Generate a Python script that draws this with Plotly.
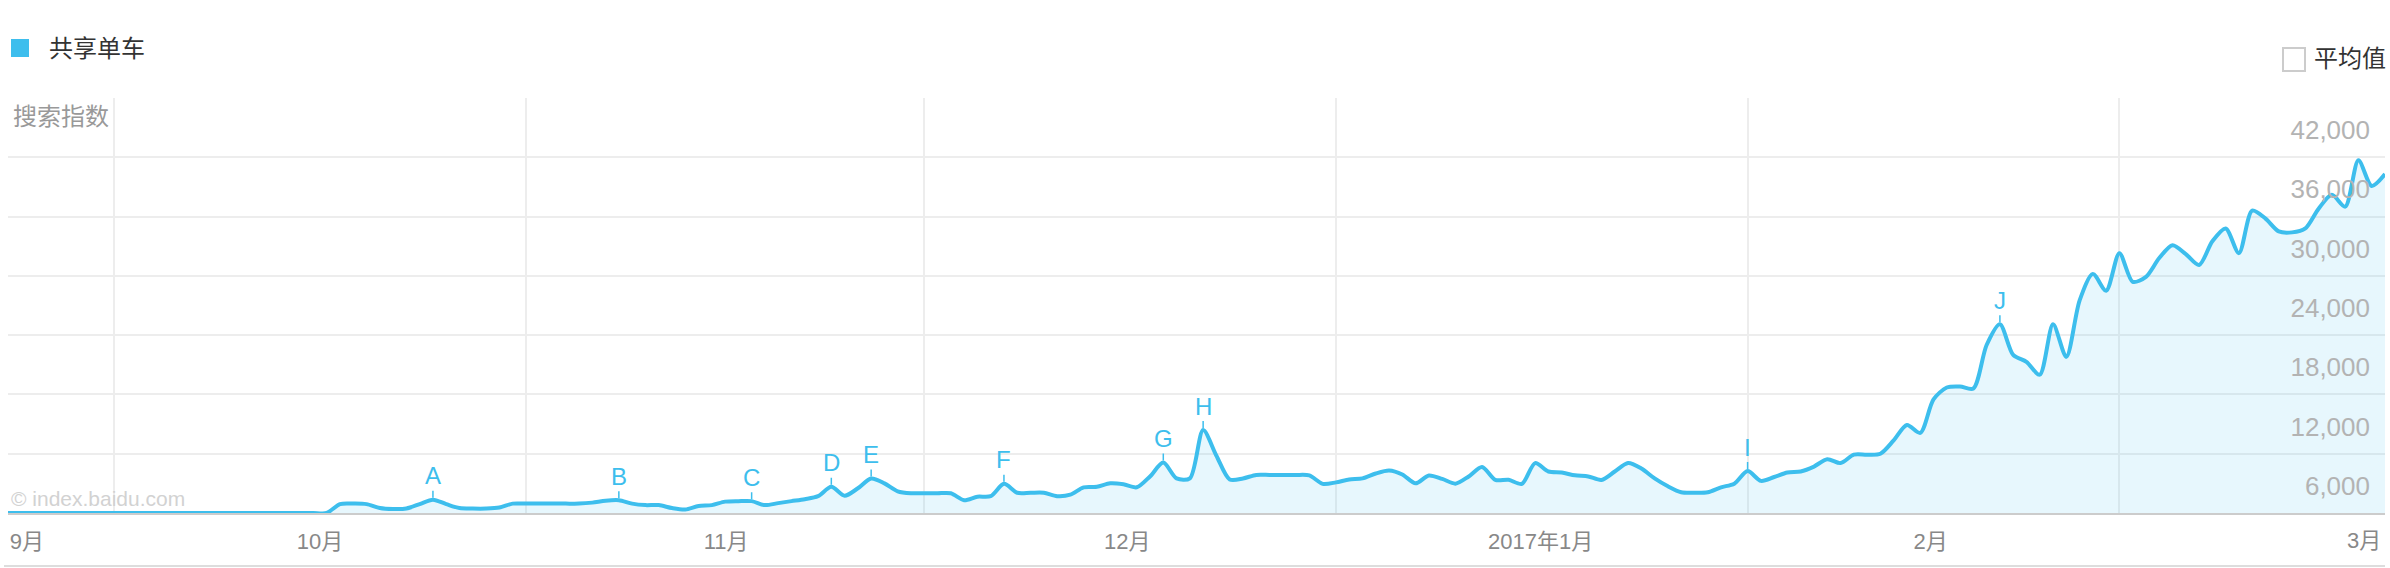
import plotly.graph_objects as go
import pandas as pd

# ---------------- data ----------------
start_date = "2016-09-23"
n_days = 180

series_name = "共享单车"
values = (
    # Sep 23 - Sep 30
    [0, 0, 0, 0, 0, 0, 0, 0]
    # Oct
    + [0, 0, 0, 0, 0, 0, 0, 0, 0, 0, 0, 0, 0, 0, 0, 0,
       0, 900, 950, 900, 500, 400, 450, 900, 1350, 900, 500, 450, 450, 550, 950]
    # Nov
    + [950, 950, 950, 950, 950, 1050, 1250, 1300, 950, 800, 800, 500, 350, 700, 800,
       1150, 1200, 1200, 800, 1000, 1200, 1400, 1700, 2650, 1750, 2500, 3500, 3000, 2200, 2000]
    # Dec
    + [2000, 2000, 2000, 1300, 1650, 1700, 2950, 2050, 2050, 2050, 1700, 1850, 2600, 2650, 3000,
       2900, 2600, 3700, 5100, 3500, 3500, 8400, 5800, 3400, 3500, 3850, 3850, 3850, 3850, 3800, 2950]
    # Jan
    + [3100, 3400, 3500, 4000, 4300, 3900, 3000, 3800, 3450, 2970, 3700, 4650, 3350, 3370, 2950,
       5050, 4200, 4100, 3810, 3700, 3350, 4200, 5050, 4500, 3500, 2700, 2100, 2050, 2100, 2600, 2970]
    # Feb
    + [4240, 3250, 3640, 4100, 4200, 4700, 5450, 5050, 5900, 5900, 6000, 7350, 8900, 8100,
       11500, 12700, 12800, 12600, 17000, 19100, 16000, 15300, 14000, 19100, 15800, 21500, 24200, 22500]
    # Mar 1 - Mar 21
    + [26300, 23400, 23900, 25800, 27100, 26200, 25100, 27500, 28800, 26300, 30600, 29800,
       28500, 28400, 28800, 30800, 32200, 31000, 35700, 33100, 34300]
)

event_labels = ["A", "B", "C", "D", "E", "F", "G", "H", "I", "J"]
event_dates = ["2016-10-25", "2016-11-08", "2016-11-18", "2016-11-24", "2016-11-27",
               "2016-12-07", "2016-12-19", "2016-12-22", "2017-02-01", "2017-02-20"]

x_tick_labels = ["9月", "10月", "11月", "12月", "2017年1月", "2月", "3月"]
x_tick_dates = ["2016-09-24 10:00", "2016-10-16 12:00", "2016-11-16 02:00", "2016-12-16 07:00",
                "2017-01-16 10:00", "2017-02-14 19:00", "2017-03-19 10:00"]
month_starts = ["2016-10-01", "2016-11-01", "2016-12-01", "2017-01-01", "2017-02-01", "2017-03-01"]

y_tick_vals = [0, 6000, 12000, 18000, 24000, 30000, 36000, 42000]
y_tick_text = ["", "6,000", "12,000", "18,000", "24,000", "30,000", "36,000", "42,000"]

# ---------------- style / layout ----------------
W, H = 2390, 568
L, R, T, B = 8, 2385, 98, 513
BLUE = "#3dbeed"
FONT = "Liberation Sans, Noto Sans CJK SC, sans-serif"
XLABEL_FONT = dict(family=FONT, size=22, color="#888888")


def px(x):
    return (x - L) / (R - L)


def py(y):
    return (B - y) / (B - T)


dates = pd.date_range(start_date, periods=n_days, freq="D")
val_by_date = dict(zip(dates.strftime("%Y-%m-%d"), values))

fig = go.Figure()
fig.add_trace(go.Scatter(
    x=dates, y=values, mode="lines", name=series_name,
    line=dict(color=BLUE, width=4, shape="spline", smoothing=0.8),
    fill="tozeroy", fillcolor="rgba(59,189,236,0.12)",
    hoverinfo="skip", showlegend=False,
))

annotations = []
for lab, d in zip(event_labels, event_dates):
    annotations.append(dict(
        x=d, y=val_by_date[d], xref="x", yref="y", text=lab,
        showarrow=True, arrowhead=0, arrowwidth=1.5, arrowcolor=BLUE,
        ax=0, ay=-24, standoff=2,
        font=dict(family=FONT, size=24, color=BLUE),
    ))

# plotly hides the last x tick label next to the inside y labels,
# so the final month label is placed at its date on the x scale as text
axis_tick_dates, axis_tick_labels = x_tick_dates[:-1], x_tick_labels[:-1]
annotations.append(dict(
    x=x_tick_dates[-1], y=py(540), xref="x", yref="paper", text=x_tick_labels[-1],
    showarrow=False, xanchor="center", yanchor="middle", font=XLABEL_FONT,
))

# legend-like header and other texts
annotations += [
    dict(x=px(47), y=py(48), xref="paper", yref="paper", text=series_name, showarrow=False,
         xanchor="left", yanchor="middle", font=dict(family=FONT, size=24, color="#333333")),
    dict(x=px(2312), y=py(59), xref="paper", yref="paper", text="平均值", showarrow=False,
         xanchor="left", yanchor="middle", font=dict(family=FONT, size=24, color="#333333")),
    dict(x=px(11), y=py(117), xref="paper", yref="paper", text="搜索指数", showarrow=False,
         xanchor="left", yanchor="middle", font=dict(family=FONT, size=24, color="#999999")),
    dict(x=px(9), y=py(498), xref="paper", yref="paper", text="© index.baidu.com", showarrow=False,
         xanchor="left", yanchor="middle", font=dict(family=FONT, size=21, color="#d2d2d2")),
]

shapes = [
    dict(type="rect", xref="paper", yref="paper", x0=px(11), x1=px(29), y0=py(57), y1=py(39),
         fillcolor=BLUE, line=dict(width=0)),
    dict(type="rect", xref="paper", yref="paper", x0=px(2283), x1=px(2305), y0=py(71), y1=py(48),
         fillcolor="white", line=dict(color="#cccccc", width=2)),
    dict(type="line", xref="paper", yref="paper", x0=px(4), x1=px(2385), y0=py(566), y1=py(566),
         line=dict(color="#dddddd", width=2)),
]

fig.update_layout(
    width=W, height=H,
    margin=dict(l=L, r=W - R, t=T, b=H - B, pad=0),
    paper_bgcolor="white", plot_bgcolor="white",
    font=dict(family=FONT),
    showlegend=False,
    annotations=annotations,
    shapes=shapes,
    xaxis=dict(
        type="date", range=[dates[0], dates[-1]],
        tickmode="array", tickvals=axis_tick_dates, ticktext=axis_tick_labels,
        showgrid=False, ticks="", ticklabelstandoff=8,
        tickfont=XLABEL_FONT,
        showline=True, linecolor="#cccccc", linewidth=2,
        minor=dict(tickmode="array", tickvals=month_starts, showgrid=True,
                   gridcolor="#ededed", gridwidth=1.5, ticks=""),
        zeroline=False, fixedrange=True,
    ),
    yaxis=dict(
        range=[0, 42000], side="right",
        tickmode="array", tickvals=y_tick_vals, ticktext=y_tick_text,
        showgrid=True, gridcolor="#ededed", gridwidth=1.5,
        ticks="", ticklabelposition="inside", ticklabelshift=32, ticklabelstandoff=12,
        tickfont=dict(family=FONT, size=26, color="#b3b3b3"),
        zeroline=False, showline=False, fixedrange=True,
    ),
)

fig.write_html(
    "out.html",
    config={"displayModeBar": False},
    post_script="document.body.style.margin='0';document.body.style.overflow='hidden';",
)
